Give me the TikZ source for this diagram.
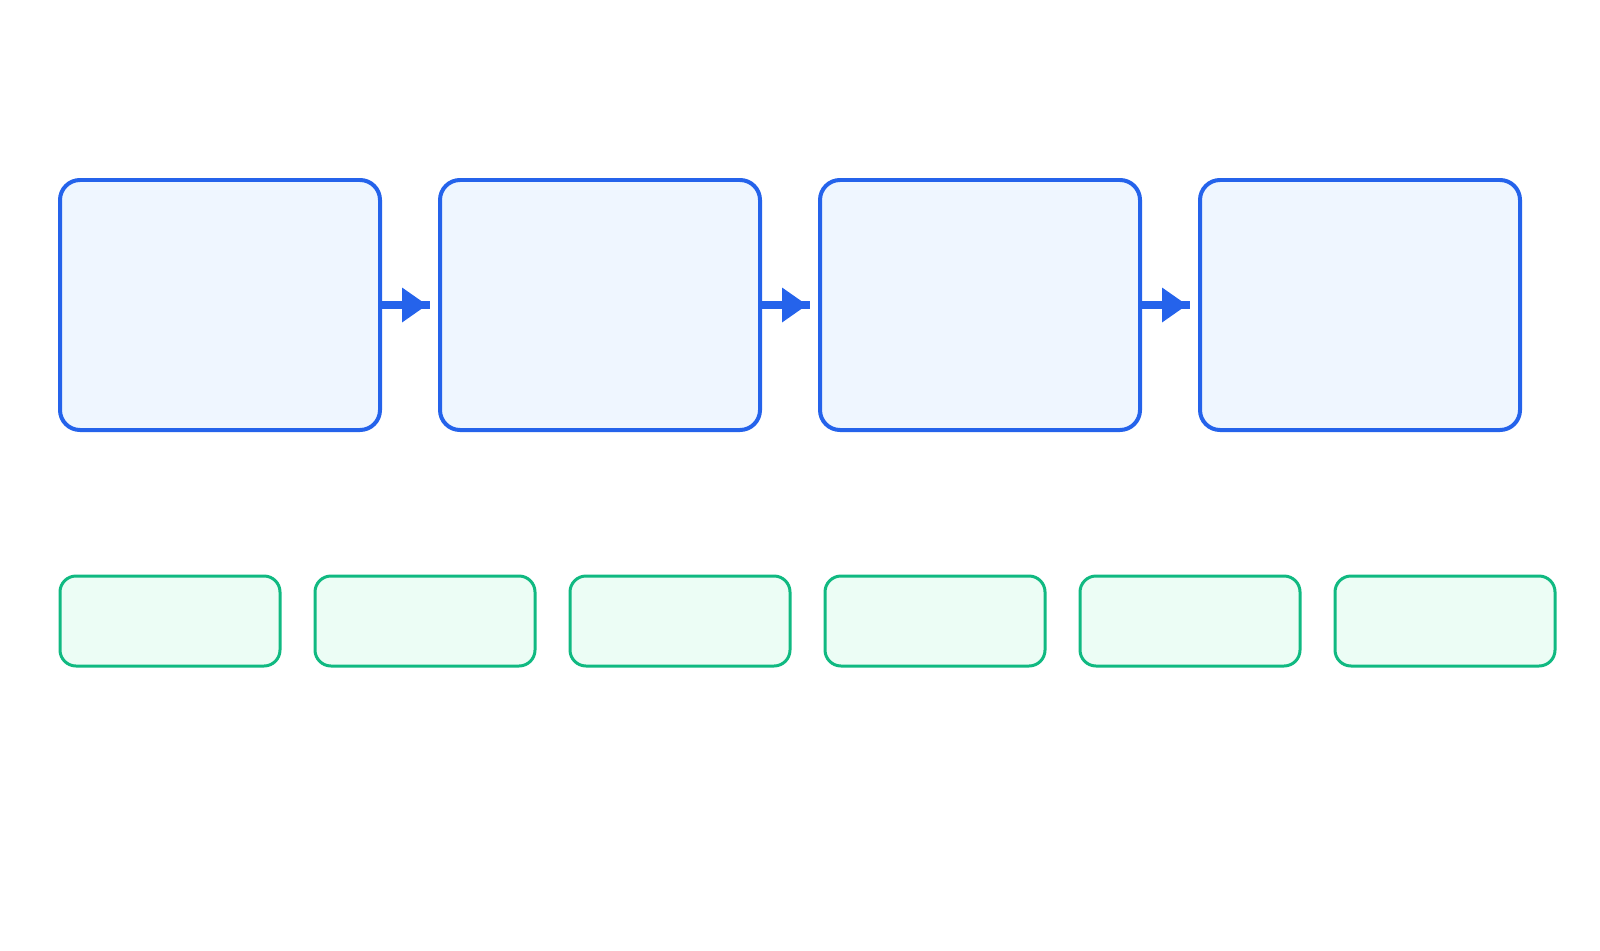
\documentclass[tikz,border=0pt]{standalone}
\usepackage{tikz}
\usepackage{color}
\usetikzlibrary{arrows.meta, positioning}

\definecolor{stageblue}{HTML}{2563EB}
\definecolor{stagefill}{HTML}{EFF6FF}
\definecolor{itemgreen}{HTML}{10B981}
\definecolor{itemfill}{HTML}{ECFDF5}

\begin{document}
\begin{tikzpicture}[>=stealth]
  % --- STYLE DEFINITIONS ---
  \tikzstyle{stage}=[rectangle, rounded corners=0.2cm, draw=stageblue, fill=stagefill, line width=0.04cm, minimum width=3.2cm, minimum height=2.5cm, outer sep=0pt, inner sep=0pt]
  \tikzstyle{item}=[rectangle, rounded corners=0.16cm, draw=itemgreen, fill=itemfill, line width=0.03cm, minimum width=2.2cm, minimum height=0.9cm, outer sep=0pt, inner sep=0pt]
  \tikzstyle{link}=[stageblue, line width=0.08cm]
  \tikzstyle{flow}=[link, -{Triangle[length=0.25cm, width=0.35cm, line width=0pt]}, shorten >=0.13cm]

  % page frame
  \useasboundingbox (0,0) rectangle (16,-9.5);

  % =================================================================
  % ROW 1: STAGES
  % =================================================================
  \node[stage] (S1) at (2.2,-3.05) {};
  \node[stage, right=0.6cm of S1] (S2) {};
  \node[stage, right=0.6cm of S2] (S3) {};
  \node[stage, right=0.6cm of S3] (S4) {};

  % arrows between stages
  \draw[link] (S1.east) -- ([xshift=-0.1cm]S2.west);
  \draw[flow] (S1.east) -- (S2.west);
  \draw[link] (S2.east) -- ([xshift=-0.1cm]S3.west);
  \draw[flow] (S2.east) -- (S3.west);
  \draw[link] (S3.east) -- ([xshift=-0.1cm]S4.west);
  \draw[flow] (S3.east) -- (S4.west);

  % =================================================================
  % ROW 2: ITEMS
  % =================================================================
  \node[item] (I1) at (1.7,-6.21) {};
  \node[item, right=0.35cm of I1] (I2) {};
  \node[item, right=0.35cm of I2] (I3) {};
  \node[item, right=0.35cm of I3] (I4) {};
  \node[item, right=0.35cm of I4] (I5) {};
  \node[item, right=0.35cm of I5] (I6) {};

\end{tikzpicture}
\end{document}
